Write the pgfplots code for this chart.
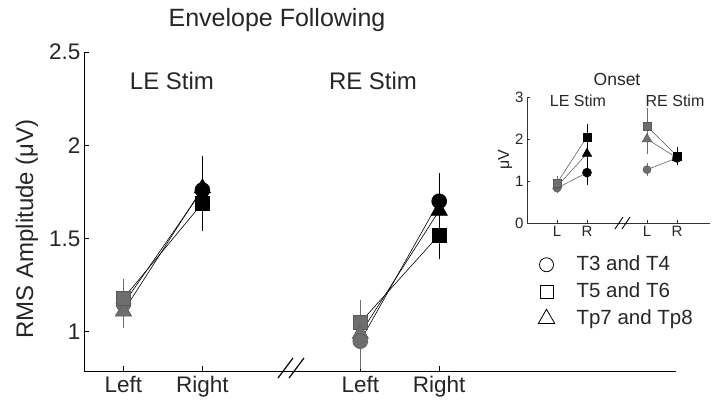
\documentclass[border=0pt]{standalone}
\usepackage{pgfplots}
\pgfplotsset{compat=1.18}
\usepackage{fontspec}
\setmainfont{Liberation Sans}
\definecolor{mgray}{HTML}{6E6E6E}
\pgfplotsset{
 gL/.style={only marks, forget plot, black, mark options={fill=mgray, draw=black!65, line width=0.5pt},
   error bars/.cd, y dir=both, y explicit, error bar style={mgray, line width=0.8pt},
   error mark options={mark size=#1, mgray, line width=0.8pt}},
 bR/.style={only marks, forget plot, black, mark options={fill=black, draw=black, line width=0.5pt},
   error bars/.cd, y dir=both, y explicit, error bar style={black, line width=0.8pt},
   error mark options={mark size=#1, black, line width=0.8pt}},
 gL/.default=4pt, bR/.default=4pt,
}
\begin{document}
\begin{tikzpicture}[x=1pt,y=1pt]
\path[use as bounding box] (0,0) rectangle (720,-408);
% ---------------- main axis
\begin{axis}[
 at={(84pt,-371pt)}, anchor=south west, scale only axis, width=592pt, height=319pt,
 xmin=0.5, xmax=8, ymin=0.79, ymax=2.5,
 axis x line=bottom, axis y line=left, axis line style={-, line width=1pt},
 tick align=inside, major tick length=5pt, tick style={line width=1pt, black},
 xtick={1,2,4,5}, xticklabels={Left,Right,Left,Right},
 ytick={1,1.5,2,2.5}, yticklabels={1,1.5,2,2.5},
 tick label style={font=\fontsize{22.5}{26}\selectfont, text=black!85},
 xticklabel style={yshift=-2pt},
 clip=false,
 legend style={at={(0.762,0.376)}, anchor=north west, draw=none, fill=none,
   font=\fontsize{20.5}{24}\selectfont, text=black!85,
   nodes={inner sep=2pt, text height=15pt, text depth=4pt}, row sep=4pt},
 legend cell align=left,
 legend image code/.code={\draw[#1] plot coordinates {(0pt,0pt)}; \path[draw=none] (-8pt,0pt) -- (28pt,0pt);},
]
% connecting lines
\addplot[forget plot, black, line width=0.6pt] coordinates {(1,1.15) (2,1.76)};
\addplot[forget plot, black, line width=0.6pt] coordinates {(1,1.18) (2,1.69)};
\addplot[forget plot, black, line width=0.6pt] coordinates {(1,1.11) (2,1.77)};
\addplot[forget plot, black, line width=0.6pt] coordinates {(4,0.95) (5,1.70)};
\addplot[forget plot, black, line width=0.6pt] coordinates {(4,1.05) (5,1.52)};
\addplot[forget plot, black, line width=0.6pt] coordinates {(4,0.99) (5,1.65)};
% LE stim, left (gray)
\addplot[mark=*, mark size=7.5pt, gL] coordinates {(1,1.15) +- (0,0.08)};
\addplot[mark=triangle*, mark size=9.5pt, gL] coordinates {(1,1.11) +- (0,0.07)};
\addplot[mark=square*, mark size=7pt, gL] coordinates {(1,1.18) +- (0,0.08)};
% LE stim, right (black)
\addplot[mark=square*, mark size=7pt, bR] coordinates {(2,1.69) +- (0,0.13)};
\addplot[mark=*, mark size=7.5pt, bR] coordinates {(2,1.76) +- (0,0.10)};
\addplot[mark=triangle*, mark size=9.5pt, bR] coordinates {(2,1.77) +- (0,0.15)};
% RE stim, left (gray)
\addplot[mark=square*, mark size=7pt, gL] coordinates {(4,1.05) +- (0,0.10)};
\addplot[mark=triangle*, mark size=9.5pt, gL] coordinates {(4,0.99) +- (0,0.10)};
\addplot[mark=*, mark size=7.5pt, gL] coordinates {(4,0.95) +- (0,0.13)};
% RE stim, right (black)
\addplot[mark=square*, mark size=7pt, bR] coordinates {(5,1.52) +- (0,0.11)};
\addplot[mark=triangle*, mark size=9.5pt, bR] coordinates {(5,1.65) +- (0,0.13)};
\addplot[mark=*, mark size=7.5pt, bR] coordinates {(5,1.70) +- (0,0.13)};
% legend
\addlegendimage{only marks, mark=o, mark size=7pt, black, line width=0.8pt}
\addlegendentry{T3 and T4}
\addlegendimage{only marks, mark=square, mark size=6.5pt, black, line width=0.8pt}
\addlegendentry{T5 and T6}
\addlegendimage{only marks, mark=triangle, mark size=9.5pt, black, line width=0.8pt}
\addlegendentry{Tp7 and Tp8}
\end{axis}
% ---------------- inset axis
\begin{axis}[
 at={(527pt,-223pt)}, anchor=south west, scale only axis, width=183pt, height=126pt,
 xmin=0, xmax=6.1, ymin=0, ymax=3,
 axis x line=bottom, axis y line=left, axis line style={-, line width=0.7pt, black!80},
 tick align=inside, major tick length=3pt, tick style={line width=0.7pt, black!80},
 xtick={1,2,4,5}, xticklabels={L,R,L,R},
 ytick={0,1,2,3}, yticklabels={0,1,2,3},
 tick label style={font=\fontsize{15}{17}\selectfont, text=black!85},
 clip=false,
]
\addplot[black!70, line width=0.5pt] coordinates {(1,0.83) (2,1.20)};
\addplot[black!70, line width=0.5pt] coordinates {(1,0.95) (2,2.05)};
\addplot[black!70, line width=0.5pt] coordinates {(1,0.87) (2,1.65)};
\addplot[black!70, line width=0.5pt] coordinates {(4,1.27) (5,1.55)};
\addplot[black!70, line width=0.5pt] coordinates {(4,2.30) (5,1.60)};
\addplot[black!70, line width=0.5pt] coordinates {(4,2.00) (5,1.55)};
\addplot[mark=*, mark size=4pt, gL=2.5pt] coordinates {(1,0.83) +- (0,0.05)};
\addplot[mark=triangle*, mark size=5pt, gL=2.5pt] coordinates {(1,0.87) +- (0,0.06)};
\addplot[mark=square*, mark size=4pt, gL=2.5pt] coordinates {(1,0.95) +- (0,0.10)};
\addplot[mark=*, mark size=4.5pt, bR=2.5pt] coordinates {(2,1.20) +- (0,0.23)};
\addplot[mark=triangle*, mark size=5.5pt, bR=2.5pt] coordinates {(2,1.65) +- (0,0.30)};
\addplot[mark=square*, mark size=4pt, bR=2.5pt] coordinates {(2,2.05) +- (0,0.25)};
\addplot[mark=*, mark size=4pt, gL=2.5pt] coordinates {(4,1.27) +- (0,0.10)};
\addplot[mark=triangle*, mark size=5.5pt, gL=2.5pt] coordinates {(4,2.00) +- (0,0.30)};
\addplot[mark=square*, mark size=4pt, gL=2.5pt] coordinates {(4,2.30) +- (0,0.38)};
\addplot[mark=triangle*, mark size=5.5pt, bR=2.5pt] coordinates {(5,1.55) +- (0,0.12)};
\addplot[mark=square*, mark size=4pt, bR=2.5pt] coordinates {(5,1.60) +- (0,0.15)};
\addplot[mark=*, mark size=4.5pt, bR=2.5pt] coordinates {(5,1.55) +- (0,0.10)};
\end{axis}
% ---------------- axis breaks
\draw[line width=1.2pt, black] (278,-378) -- (293,-358);
\draw[line width=1.2pt, black] (289,-378) -- (304,-358);
\draw[line width=0.9pt, black] (615,-229) -- (623,-217);
\draw[line width=0.9pt, black] (622,-229) -- (630,-217);
% ---------------- texts
\node[anchor=base, font=\fontsize{25}{28}\selectfont, text=black!85] at (277,-26) {Envelope Following};
\node[anchor=base, font=\fontsize{24}{28}\selectfont, text=black!85] at (172,-89) {LE Stim};
\node[anchor=base, font=\fontsize{24}{28}\selectfont, text=black!85] at (373,-89) {RE Stim};
\node[anchor=base, rotate=90, font=\fontsize{24}{28}\selectfont, text=black!85] at (33,-229) {RMS Amplitude (μV)};
\node[anchor=base, font=\fontsize{17.5}{20}\selectfont, text=black!85] at (617,-85) {Onset};
\node[anchor=base, font=\fontsize{16}{18}\selectfont, text=black!85] at (578,-106) {LE Stim};
\node[anchor=base, font=\fontsize{16}{18}\selectfont, text=black!85] at (675,-106) {RE Stim};
\node[anchor=base, rotate=90, font=\fontsize{16}{18}\selectfont, text=black!85] at (509,-160) {μV};
\end{tikzpicture}
\end{document}
